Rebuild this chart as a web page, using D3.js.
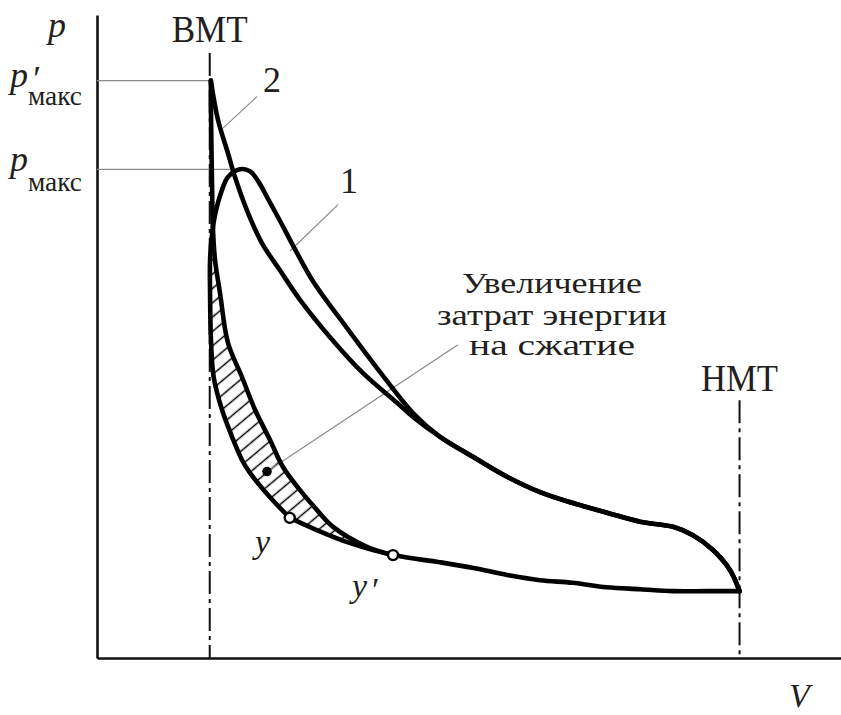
<!DOCTYPE html>
<html>
<head>
<meta charset="utf-8">
<script src="https://cdn.jsdelivr.net/npm/d3@7"></script>
<style>
  html, body { margin: 0; padding: 0; background: #fff; }
  svg { display: block; }
  text { font-family: "Liberation Serif", "Times New Roman", serif; fill: #231f20; }
</style>
</head>
<body>
<svg id="chart" width="841" height="715"></svg>
<script>
// ---------- DATA (V relative to V at BMT, p in arbitrary units) ----------
const V_BMT = 1.0, V_HMT = 5.7;
const pMaxPrime = 8.98, pMax = 7.6;

// common line: from HMT along the bottom to point y' and on to point y (curve 1)
const baseV = [5.70, 5.41, 5.11, 4.82, 4.52, 4.22, 3.93, 3.64, 3.34, 3.04, 2.63, 2.24, 1.95, 1.71];
const baseP = [1.04, 1.04, 1.04, 1.07, 1.10, 1.17, 1.21, 1.29, 1.40, 1.49, 1.60, 1.79, 1.99, 2.18];

// curve 1: from point y, compression, peak p_max, expansion to merge point
const c1V = [1.71, 1.535, 1.357, 1.286, 1.198, 1.109, 1.035, 1.012, 1.003, 1.003, 1.020, 1.047, 1.109, 1.162, 1.268, 1.357, 1.428, 1.517, 1.623, 1.756, 1.916, 2.218, 2.510, 2.803, 3.043];
const c1P = [2.18, 2.50, 2.88, 3.08, 3.44, 3.86, 4.37, 4.90, 5.68, 6.19, 6.58, 6.89, 7.28, 7.48, 7.60, 7.57, 7.42, 7.14, 6.80, 6.36, 5.86, 5.13, 4.45, 3.81, 3.44];

// curve 2: compression from point y' up to p'_max at BMT
const c2CompV = [2.626, 2.395, 2.094, 1.952, 1.801, 1.650, 1.535, 1.402, 1.286, 1.162, 1.091, 1.047, 1.029, 1.020, 1.012, 1.010];
const c2CompP = [1.60, 1.73, 2.04, 2.30, 2.61, 2.97, 3.39, 3.86, 4.37, 4.90, 5.68, 6.19, 6.66, 7.43, 8.37, 8.98];
// curve 2: expansion from p'_max to merge point
const c2ExpV = [1.010, 1.073, 1.162, 1.224, 1.340, 1.464, 1.623, 1.801, 2.067, 2.360, 2.661, 2.803, 3.043];
const c2ExpP = [8.98, 8.37, 7.85, 7.48, 6.92, 6.45, 6.03, 5.57, 4.99, 4.43, 3.97, 3.75, 3.44];

// common expansion: merge point to HMT
const expV = [3.043, 3.335, 3.637, 3.930, 4.222, 4.524, 4.817, 5.110, 5.287, 5.464, 5.615, 5.70];
const expP = [3.44, 3.13, 2.82, 2.58, 2.41, 2.26, 2.12, 2.04, 1.91, 1.68, 1.37, 1.04];

// marked points
const pointNames = ["y", "y"];
const pointV = [1.71, 2.626];
const pointP = [2.18, 1.60];
const dotV = 1.508, dotP = 2.90;

// labels
const curveLabels = ["1", "2"];
const tdcLabels = ["ВМТ", "НМТ"];
const noteLines = ["Увеличение", "затрат энергии", "на сжатие"];

// ---------- LAYOUT ----------
const svg = d3.select("#chart");
const x = d3.scaleLinear().domain([0, 6.6]).range([97, 841]);
const y = d3.scaleLinear().domain([0, 10]).range([658, 15]);

const zip = (a, b) => a.map((v, i) => [v, b[i]]);
const line = d3.line().x(d => x(d[0])).y(d => y(d[1])).curve(d3.curveCatmullRom.alpha(0.5));

// hatch pattern
const defs = svg.append("defs");
const pat = defs.append("pattern")
  .attr("id", "hatch").attr("patternUnits", "userSpaceOnUse")
  .attr("width", 40).attr("height", 11)
  .attr("patternTransform", "rotate(-40)");
pat.append("line").attr("x1", 0).attr("x2", 40).attr("y1", 5.5).attr("y2", 5.5)
  .attr("stroke", "#000").attr("stroke-width", 1.6);

// hatched region: curve 2 compression (y' → top) + curve 1 compression (top → y) + base (y → y')
const c2part = zip(c2CompV, c2CompP).filter(d => d[1] <= 6.2);
const topIdx = c1P.findIndex(p => p >= 6.19);
const c1part = zip(c1V, c1P).slice(0, topIdx + 1).reverse();
const basePart = zip(baseV, baseP).filter(d => d[0] < pointV[1] && d[0] > pointV[0]);
const hatchPts = c2part.concat(c1part, basePart);
svg.append("path")
  .attr("d", d3.line().x(d => x(d[0])).y(d => y(d[1])).curve(d3.curveCatmullRomClosed.alpha(0.5))(hatchPts))
  .attr("fill", "url(#hatch)").attr("stroke", "none");

// axes (no ticks)
svg.append("g").attr("transform", `translate(${x(0)},0)`)
  .call(d3.axisLeft(y).tickValues([]).tickSizeOuter(0))
  .call(g => g.select(".domain").attr("stroke", "#111").attr("stroke-width", 2.6));
svg.append("g").attr("transform", `translate(0,${y(0)})`)
  .call(d3.axisBottom(x).tickValues([]).tickSizeOuter(0))
  .call(g => g.select(".domain").attr("stroke", "#111").attr("stroke-width", 2.6));

// dead-centre dash-dot lines
const tdcV = [V_BMT, V_HMT];
const tdcTop = [9.41, 4.01];
tdcV.forEach((v, i) => {
  svg.append("line")
    .attr("x1", x(v)).attr("x2", x(v)).attr("y1", y(tdcTop[i])).attr("y2", y(0))
    .attr("stroke", "#111").attr("stroke-width", 2)
    .attr("stroke-dasharray", "23,5,4,5");
});

// horizontal guides for p'max and pmax
svg.append("line").attr("x1", x(0)).attr("x2", x(V_BMT)).attr("y1", y(pMaxPrime)).attr("y2", y(pMaxPrime))
  .attr("stroke", "#8a8a8a").attr("stroke-width", 1.2);
svg.append("line").attr("x1", x(0)).attr("x2", x(1.2)).attr("y1", y(pMax)).attr("y2", y(pMax))
  .attr("stroke", "#8a8a8a").attr("stroke-width", 1.2);

// leaders
const leaders = [
  [[1.712, 6.33], [2.138, 7.05]],  // to "1"
  [[1.118, 8.24], [1.419, 8.73]],  // to "2"
  [[dotV, dotP], [3.202, 4.87]]    // to note
];
leaders.forEach(l => {
  svg.append("line")
    .attr("x1", x(l[0][0])).attr("y1", y(l[0][1]))
    .attr("x2", x(l[1][0])).attr("y2", y(l[1][1]))
    .attr("stroke", "#8a8a8a").attr("stroke-width", 1.2);
});

// curves
const curveStyle = p => p.attr("fill", "none").attr("stroke", "#000").attr("stroke-width", 4.6)
  .attr("stroke-linejoin", "round").attr("stroke-linecap", "round");
svg.append("path").attr("d", line(zip(baseV, baseP))).call(curveStyle);
svg.append("path").attr("d", line(zip(c1V, c1P).concat(zip(expV, expP).slice(1)))).call(curveStyle);
svg.append("path").attr("d", line(zip(c2CompV, c2CompP))).call(curveStyle);
svg.append("path").attr("d", line(zip(c2ExpV, c2ExpP).concat(zip(expV, expP).slice(1)))).call(curveStyle);

// points y, y'
pointV.forEach((v, i) => {
  svg.append("circle").attr("cx", x(v)).attr("cy", y(pointP[i])).attr("r", 5)
    .attr("fill", "#fff").attr("stroke", "#000").attr("stroke-width", 2.4);
});
svg.append("circle").attr("cx", x(dotV)).attr("cy", y(dotP)).attr("r", 4.8).attr("fill", "#000");

// ---------- TEXT ----------
function txt(xp, yp, s, size, opts = {}) {
  const t = svg.append("text").attr("x", xp).attr("y", yp).attr("font-size", size)
    .attr("text-anchor", opts.anchor || "start").text(s);
  if (opts.italic) t.attr("font-style", "italic");
  if (opts.len) t.attr("textLength", opts.len).attr("lengthAdjust", "spacingAndGlyphs");
  return t;
}
// p with optional prime and subscript "макс", as one text element
function pLabel(xp, yp, prime, subY) {
  const t = svg.append("text").attr("x", xp).attr("y", yp).attr("font-size", 36);
  t.append("tspan").attr("font-style", "italic").text("p");
  if (prime) t.append("tspan").attr("font-style", "italic").attr("dx", 3).attr("dy", 4).text("′");
  t.append("tspan").attr("x", 28).attr("y", subY).attr("font-size", 28)
    .attr("textLength", 54).attr("lengthAdjust", "spacingAndGlyphs").text("макс");
  return t;
}
// axis titles
txt(48, 37, "p", 36, { italic: true });
txt(789, 707, "V", 34, { italic: true });
// p'max and pmax
pLabel(10, 87, true, 105);
pLabel(10, 171, false, 191);
// dead centres
txt(x(V_BMT), 42, tdcLabels[0], 38, { anchor: "middle", len: 76 });
txt(x(V_HMT), 391, tdcLabels[1], 38, { anchor: "middle", len: 77 });
// curve numbers
txt(349, 193, curveLabels[0], 36, { anchor: "middle" });
txt(272, 92, curveLabels[1], 36, { anchor: "middle" });
// note
const noteY = [293, 325, 355];
const noteLen = [180, 230, 166];
noteLines.forEach((s, i) => txt(552, noteY[i], s, 30, { anchor: "middle", len: noteLen[i] }));
// point labels
txt(255, 553, pointNames[0], 34, { italic: true });
const yp = svg.append("text").attr("x", 352).attr("y", 597).attr("font-size", 34).attr("font-style", "italic");
yp.append("tspan").text(pointNames[1]);
yp.append("tspan").attr("dx", 3).attr("dy", 4).text("′");
</script>
</body>
</html>
